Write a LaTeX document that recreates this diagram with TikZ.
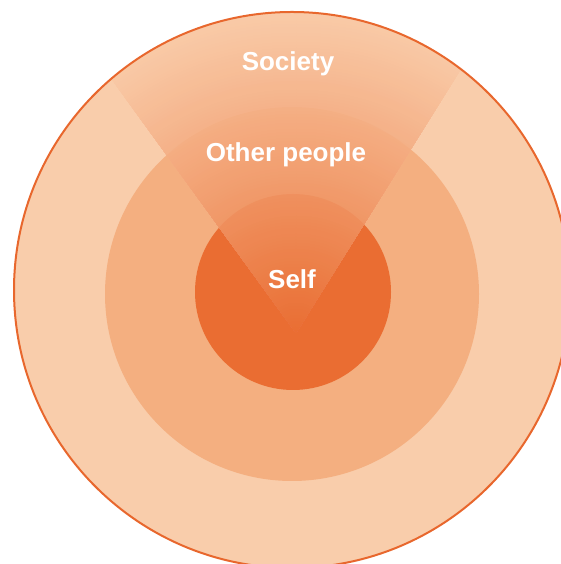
\documentclass[tikz,border=0pt]{standalone}
\usepackage{fontspec}
\setmainfont{Liberation Sans}
\definecolor{ringouter}{HTML}{F9CDAB}
\definecolor{ringmid}{HTML}{F4AF80}
\definecolor{ringinner}{HTML}{EA6D32}
\definecolor{rimline}{HTML}{E8672D}
\definecolor{wedgedark}{HTML}{EA6E33}
\definecolor{wedgelight}{HTML}{F9CAA7}
\tikzset{
  label/.style={text=white, font=\fontsize{26}{30}\selectfont\bfseries, anchor=base, inner sep=0pt},
}
\begin{document}
\begin{tikzpicture}[x=1pt,y=1pt]
\useasboundingbox (0,0) rectangle (561,564);
\clip (0,0) rectangle (561,564);
\coordinate (co) at (292,274);
\coordinate (cm) at (292,270);
\coordinate (ci) at (293,272);
\coordinate (apex) at (296,231);
\fill[ringouter] (co) circle[radius=278];
\fill[ringmid] (cm) circle[radius=187];
\fill[ringinner] (ci) circle[radius=98];
\begin{scope}[transparency group, opacity=0.87]
  \clip (co) circle[radius=278];
  \foreach \r in {330,327,...,3} {
    \pgfmathsetmacro{\p}{min(100,\r/3.2)}
    \fill[wedgelight!\p!wedgedark] (apex) -- ++(58:\r) arc[start angle=58, end angle=126, radius=\r] -- cycle;
  }
\end{scope}
\draw[rimline, line width=2] (co) circle[radius=278];
\node[label] (society) at (288,493) {Society};
\node[label] (other) at (286,402) {Other people};
\node[label] (self) at (292,275) {Self};
\end{tikzpicture}
\end{document}
